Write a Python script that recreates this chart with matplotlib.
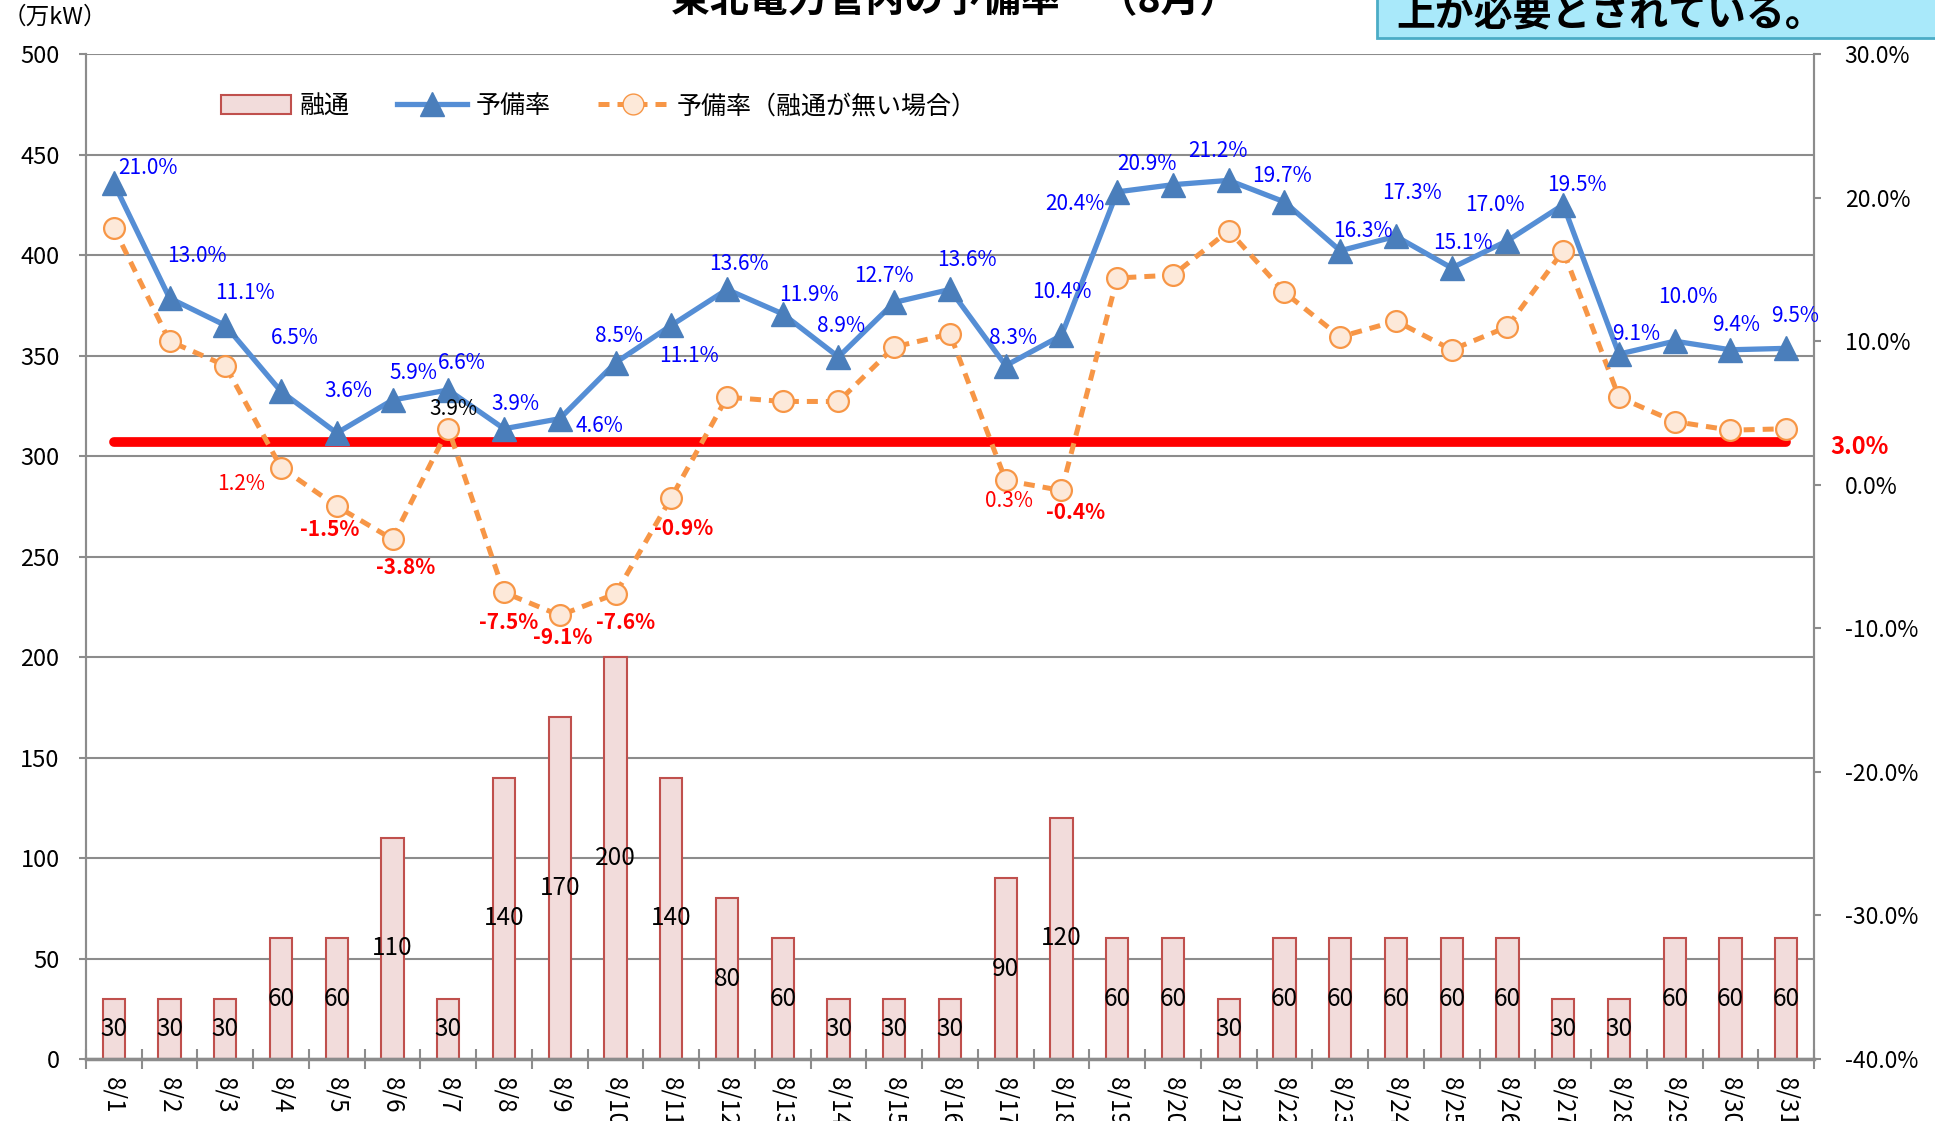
import matplotlib
matplotlib.use("Agg")
import matplotlib.pyplot as plt
import matplotlib.transforms as mtransforms
from matplotlib.patches import Rectangle
from matplotlib.lines import Line2D
import numpy as np

plt.rcParams['font.family'] = ['Noto Sans CJK JP', 'DejaVu Sans']

days = ['8/%d' % d for d in range(1, 32)]
yuzu = [30, 30, 30, 60, 60, 110, 30, 140, 170, 200, 140, 80, 60, 30, 30, 30,
        90, 120, 60, 60, 30, 60, 60, 60, 60, 60, 30, 30, 60, 60, 60]
yobi = [21.0, 13.0, 11.1, 6.5, 3.6, 5.9, 6.6, 3.9, 4.6, 8.5, 11.1, 13.6, 11.9, 8.9,
        12.7, 13.6, 8.3, 10.4, 20.4, 20.9, 21.2, 19.7, 16.3, 17.3, 15.1, 17.0,
        19.5, 9.1, 10.0, 9.4, 9.5]
yobi_nashi = [17.9, 10.0, 8.3, 1.2, -1.5, -3.8, 3.9, -7.5, -9.1, -7.6, -0.9, 6.1,
              5.8, 5.8, 9.6, 10.5, 0.3, -0.4, 14.4, 14.6, 17.7, 13.4, 10.3, 11.4,
              9.4, 11.0, 16.3, 6.1, 4.4, 3.8, 3.9]
nashi_labelled = [3, 4, 5, 6, 7, 8, 9, 10, 16, 17]
reserve_min = 3.0

# label offsets, measured in pixels of the shrunk reference
blue_off = [(28, 12), (22, 34), (16, 26), (11, 43), (9, 34), (17, 22), (11, 22), (9, 20),
            (32, -6), (3, 22), (14, -25), (10, 21), (21, 15), (2, 25), (-8, 21), (14, 24),
            (6, 22), (0, 35), (-34, -10), (-21, 17), (-9, 24), (-2, 21), (18, 16), (13, 35),
            (9, 20), (-10, 29), (11, 16), (14, 16), (11, 36), (5, 20), (7, 26)]
orange_off = {3: (-32, -13), 4: (-6, -19), 5: (11, -23), 6: (4, 16), 7: (4, -24),
              8: (2, -18), 9: (8, -23), 10: (10, -25), 16: (3, -17), 17: (11, -18)}
k = 0.889  # shrunk px -> points

grid_c = '#8c8c8c'
fig = plt.figure(figsize=(19.35, 11.21), dpi=100)
ax = fig.add_axes([0.0444, 0.0553, 0.8931, 0.8965])
ax2 = ax.twinx()

x = np.arange(len(days))
ax.bar(x, yuzu, width=0.4, color='#F2DCDB', edgecolor='#C0504D', linewidth=1.5, zorder=2)
for xi, v in zip(x, yuzu):
    ax.text(xi, v / 2, str(v), ha='center', va='center', fontsize=17.5, color='black', zorder=3)

ax.set_xlim(-0.5, len(days) - 0.5)
ax.set_ylim(0, 500)
ax.set_yticks(np.arange(0, 501, 50))
ax.yaxis.grid(True, color=grid_c, linewidth=1.5)
ax.set_axisbelow(True)
ax.set_xticks(x)
ax.set_xticklabels(days, rotation=-90, fontsize=17.5)
ax.set_xticks(np.arange(-0.5, len(days)), minor=True)
ax.tick_params(axis='x', which='major', length=0, pad=13)
ax.tick_params(axis='x', which='minor', length=14, direction='inout', color=grid_c, width=1.5)
ax.tick_params(axis='y', length=5, color=grid_c, width=1.5, pad=14, labelsize=17)
for s in ['left', 'right', 'bottom', 'top']:
    ax.spines[s].set_color(grid_c)
    ax2.spines[s].set_color(grid_c)
    ax.spines[s].set_linewidth(1.5)
    ax2.spines[s].set_linewidth(1.5)
ax.spines['top'].set_visible(False)
ax2.spines['top'].set_visible(False)
ax.spines['bottom'].set_linewidth(2.5)

ax2.set_ylim(-40, 30)
ax2.set_yticks(np.arange(-40, 31, 10))
ax2.set_yticklabels(['%.1f%%' % v for v in np.arange(-40, 31, 10)])
ax2.tick_params(axis='y', length=5, color=grid_c, width=1.5, pad=17, labelsize=16.5)

ax2.plot([x[0], x[-1]], [reserve_min, reserve_min], color='#FF0000', linewidth=7,
         solid_capstyle='round', zorder=2)
ax2.plot(x, yobi_nashi, color='#F79646', linewidth=3.6, linestyle=(0, (2.2, 1.6)),
         marker='o', markersize=15, markerfacecolor='#FDE9D9', markeredgecolor='#F79646',
         markeredgewidth=1.6, zorder=3)
ax2.plot(x, yobi, color='#558ED5', linewidth=3.8, marker='^', markersize=17,
         markerfacecolor='#4A7EBB', markeredgecolor='#4A7EBB', zorder=4)

for i, v in enumerate(yobi):
    dx, dy = blue_off[i]
    ax2.annotate('%.1f%%' % v, (x[i], v), xytext=(dx * k, dy * k), textcoords='offset points',
                 ha='center', va='center', color='#0000FF', fontsize=15, zorder=5)
for i in nashi_labelled:
    v = yobi_nashi[i]
    dx, dy = orange_off[i]
    if v < 0:
        col, fw = '#FF0000', 'bold'
    elif v < reserve_min:
        col, fw = '#FF0000', 'normal'
    else:
        col, fw = 'black', 'normal'
    ax2.annotate('%.1f%%' % v, (x[i], v), xytext=(dx * k, dy * k), textcoords='offset points',
                 ha='center', va='center', color=col, fontweight=fw, fontsize=15, zorder=5)

trans = mtransforms.blended_transform_factory(ax2.transAxes, ax2.transData)
ax2.annotate('%.1f%%' % reserve_min, (1.0, reserve_min), xycoords=trans, xytext=(12, -4),
             textcoords='offset points', ha='left', va='center', color='#FF0000',
             fontweight='bold', fontsize=17, annotation_clip=False)

handles = [Rectangle((0, 0), 1, 1, facecolor='#F2DCDB', edgecolor='#C0504D', linewidth=1.5),
           Line2D([], [], color='#558ED5', linewidth=3.8, marker='^', markersize=17,
                  markerfacecolor='#4A7EBB', markeredgecolor='#4A7EBB'),
           Line2D([], [], color='#F79646', linewidth=3.6, linestyle=(0, (2.2, 1.6)), marker='o',
                  markersize=15, markerfacecolor='#FDE9D9', markeredgecolor='#F79646')]
ax2.legend(handles, ['融通', '予備率', '予備率（融通が無い場合）'], ncol=3, frameon=False,
           loc='center left', bbox_to_anchor=(0.078, 0.948), fontsize=18,
           handlelength=2.8, handletextpad=0.35, columnspacing=1.9, handleheight=0.75,
           borderpad=0, borderaxespad=0)

fig.text(55 / 1935, 1 - 17 / 1121, '（万kW）', ha='center', va='center', fontsize=17)
fig.text(955 / 1935, 1 - 12 / 1121, '東北電力管内の予備率　（8月）', ha='center',
         va='baseline', fontsize=28, fontweight='bold')
fig.patches.append(Rectangle((1377 / 1935, 1 - 38 / 1121), 0.4, 0.1, transform=fig.transFigure,
                             facecolor='#A9E9FA', edgecolor='#4BACC6', linewidth=2, clip_on=False))
fig.text(1396 / 1935, 1 - 26 / 1121, '上が必要とされている。', ha='left', va='baseline',
         fontsize=28, fontweight='bold')

fig.savefig('out.png', dpi=100)
